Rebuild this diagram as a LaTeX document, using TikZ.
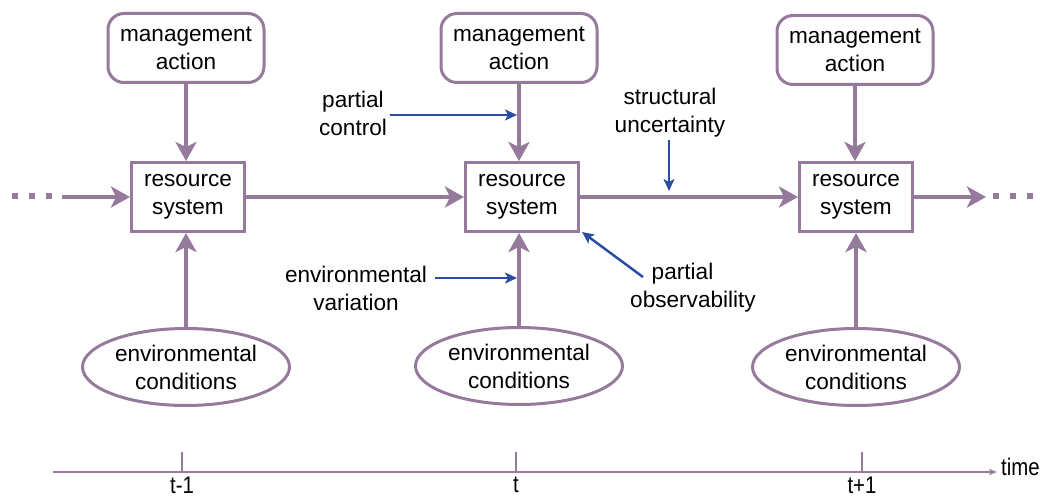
\documentclass[tikz,border=0pt]{standalone}
\usepackage{fontspec}
\setmainfont{Liberation Sans}
\newfontfamily\narrowfont[FakeStretch=0.85]{Liberation Sans}
\usetikzlibrary{arrows.meta,shapes.geometric}
\definecolor{pc}{RGB}{150,122,155}
\definecolor{bc}{RGB}{42,76,162}
\tikzset{
  lbl/.style={font=\fontsize{22.6}{28}\selectfont, align=center, inner sep=0pt},
  mgmt/.style={lbl, draw=pc, line width=3pt, rounded corners=16pt, minimum width=156pt, minimum height=69pt, fill=white},
  res/.style={lbl, draw=pc, line width=3pt, minimum width=113pt, minimum height=69pt, fill=white},
  env/.style={lbl, draw=pc, line width=3pt, ellipse, minimum width=207pt, minimum height=77pt, fill=white},
  main/.style={draw=pc, line width=4.5pt, -{Stealth[length=19pt,width=21pt,inset=5pt]}},
  bluearr/.style={draw=bc, line width=2.5pt, -{Stealth[length=12pt,width=11pt,inset=3pt]}},
  dot/.style={fill=pc, inner sep=0pt, minimum size=6pt},
  tl/.style={draw=pc, line width=1.8pt},
  tlab/.style={font=\narrowfont\fontsize{24}{26}\selectfont, inner sep=0pt},
}
\begin{document}
\begin{tikzpicture}[x=1pt,y=-1pt]
\useasboundingbox (0,0) rectangle (1049,497);
% nodes
\node[mgmt] (m1) at (186,48) {management\\action};
\node[mgmt] (m2) at (519,48) {management\\action};
\node[mgmt] (m3) at (855,50) {management\\action};
\node[res] (r1) at (188,197) {resource\\system};
\node[res] (r2) at (522,197) {resource\\system};
\node[res] (r3) at (856,197) {resource\\system};
\node[env] (e1) at (186,367) {environmental\\conditions};
\node[env] (e2) at (519,366) {environmental\\conditions};
\node[env] (e3) at (856,367) {environmental\\conditions};
% vertical arrows
\draw[main] (m1.south) -- (m1.south |- r1.north);
\draw[main] (m2.south) -- (m2.south |- r2.north);
\draw[main] (m3.south) -- (m3.south |- r3.north);
\draw[main] (e1.north) -- (e1.north |- r1.south);
\draw[main] (e2.north) -- (e2.north |- r2.south);
\draw[main] (e3.north) -- (e3.north |- r3.south);
% horizontal arrows
\coordinate (lstart) at (62,197);
\coordinate (rend) at (986,197);
\draw[main] (lstart) -- (r1.west);
\draw[main] (r1.east) -- (r2.west);
\draw[main] (r2.east) -- (r3.west);
\draw[main] (r3.east) -- (rend);
\node[dot] (ld1) at (14.5,196) {};
\node[dot] (ld2) at (32,196) {};
\node[dot] (ld3) at (49,196) {};
\node[dot] (rd1) at (996,196) {};
\node[dot] (rd2) at (1013,196) {};
\node[dot] (rd3) at (1030,196) {};
% blue annotations
\node[lbl] (pctl) at (353,113) {partial\\control};
\coordinate (pctip) at (517,115);
\draw[bluearr] (pctl.east |- pctip) ++(3,0) -- (pctip);
\node[lbl] (envv) at (356,288) {environmental\\variation};
\coordinate (evtip) at (517,278);
\draw[bluearr] (envv.east |- evtip) ++(8,0) -- (evtip);
\node[lbl] (stru) at (670,113) {structural\\uncertainty};
\coordinate (sutail) at (669,140);
\coordinate (sutip) at (669,191);
\draw[bluearr] (sutail) -- (sutip);
\node[lbl] (pobs) at (693,288) {partial\hspace*{21pt}\\observability};
\coordinate (potail) at (643,277);
\coordinate (potip) at (582,232);
\draw[bluearr] (potail) -- (potip);
% timeline
\coordinate (ts) at (53,472);
\coordinate (te) at (997,472);
\draw[tl, -{Stealth[length=8pt,width=6pt,inset=2pt]}] (ts) -- (te);
\coordinate (k1) at (182,472);
\coordinate (k2) at (516,472);
\coordinate (k3) at (862,472);
\draw[tl] (k1) -- ++(0,-20);
\draw[tl] (k2) -- ++(0,-20);
\draw[tl] (k3) -- ++(0,-20);
\node[tlab, anchor=north] (l1) at (182,477) {t-1};
\node[tlab, anchor=north] (l2) at (516,477) {t};
\node[tlab, anchor=north] (l3) at (862,477) {t+1};
\node[tlab, anchor=west] (tm) at (1001,467) {time};
\end{tikzpicture}
\end{document}
